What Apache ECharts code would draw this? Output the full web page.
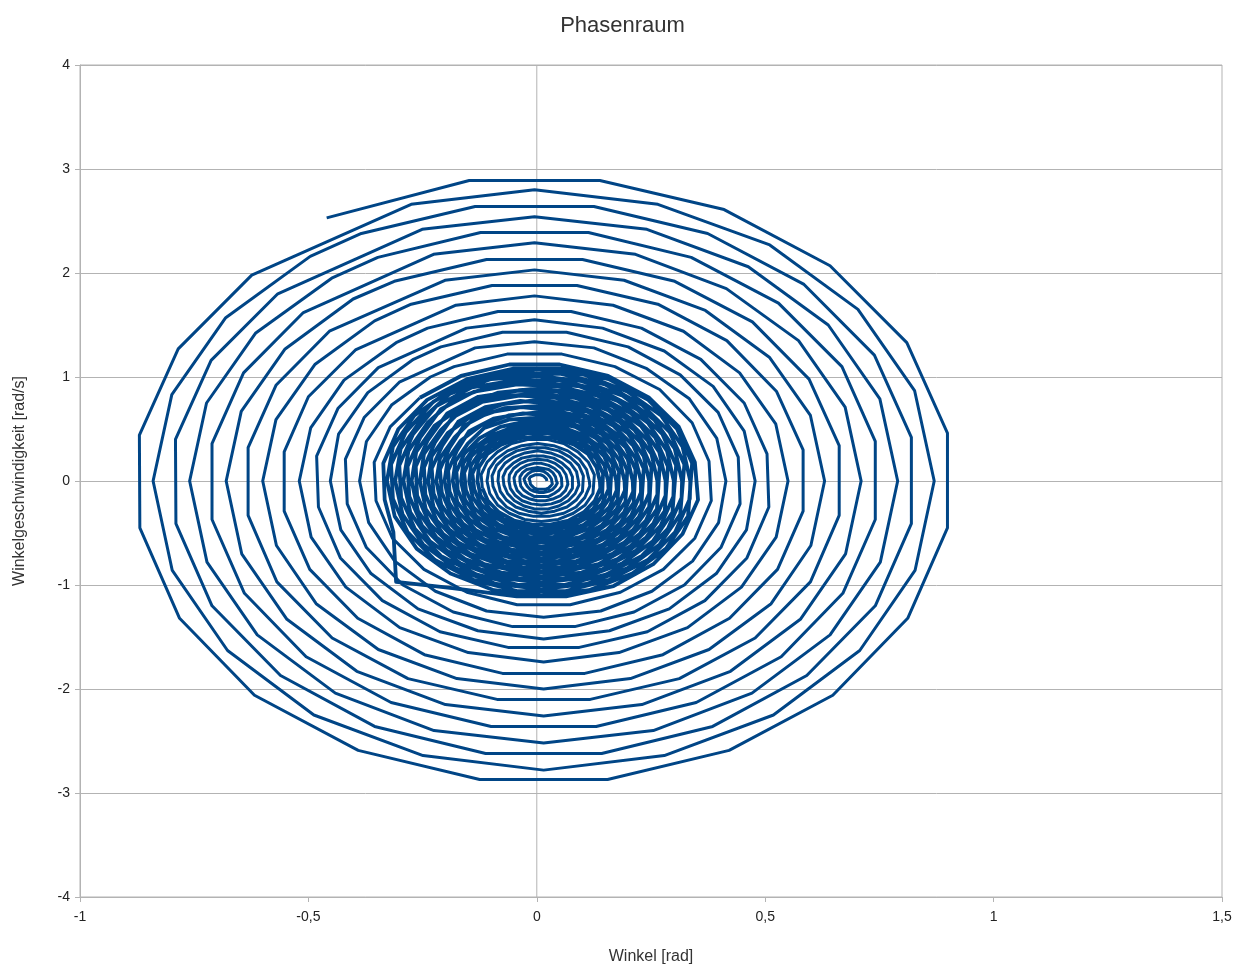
<!DOCTYPE html>
<html>
<head>
<meta charset="utf-8">
<title>Phasenraum</title>
<script src="https://cdn.jsdelivr.net/npm/echarts/dist/echarts.min.js"></script>
<style>
  html, body { margin: 0; padding: 0; background: #ffffff; }
  #chart { width: 1245px; height: 970px; }
</style>
</head>
<body>
<div id="chart"></div>
<script>
// Phasenraum eines gedämpften Pendels: [Winkel in rad, Winkelgeschwindigkeit in rad/s]

// äußere Umläufe (große Amplitude)
const bahnAussen = [
  [-0.46,2.53],[-0.148,2.89],[0.138,2.89],[0.410,2.61],[0.642,2.07],[0.810,1.33],[0.899,0.46],
  [0.899,-0.45],[0.812,-1.32],[0.648,-2.06],[0.421,-2.59],[0.155,-2.87],[-0.125,-2.87],[-0.391,-2.59],[-0.618,-2.06],[-0.782,-1.32],[-0.869,-0.45],
  [-0.870,0.44],[-0.785,1.27],[-0.624,1.98],
  [-0.275,2.66],[-0.005,2.80],[0.265,2.66],[0.510,2.27],[0.703,1.65],[0.827,0.87],[0.870,0],
  [0.828,-0.86],[0.707,-1.63],[0.518,-2.25],[0.279,-2.64],[0.015,-2.78],[-0.249,-2.64],[-0.488,-2.25],[-0.677,-1.63],[-0.798,-0.86],[-0.840,0],
  [-0.799,0.83],[-0.681,1.57],[-0.496,2.16],
  [-0.384,2.38],[-0.135,2.64],[0.125,2.64],[0.374,2.38],[0.585,1.89],[0.739,1.21],[0.820,0.42],
  [0.820,-0.41],[0.741,-1.20],[0.591,-1.87],[0.385,-2.36],[0.142,-2.62],[-0.112,-2.62],[-0.355,-2.36],[-0.561,-1.87],[-0.711,-1.20],[-0.790,-0.41],
  [-0.791,0.40],[-0.713,1.16],[-0.567,1.80],
  [-0.251,2.42],[-0.005,2.54],[0.241,2.42],[0.463,2.06],[0.638,1.50],[0.751,0.79],[0.790,0],
  [0.752,-0.78],[0.642,-1.48],[0.471,-2.04],[0.255,-2.40],[0.015,-2.52],[-0.225,-2.40],[-0.441,-2.04],[-0.612,-1.48],[-0.722,-0.78],[-0.760,0],
  [-0.723,0.75],[-0.616,1.42],[-0.449,1.95],
  [-0.348,2.15],[-0.123,2.39],[0.113,2.39],[0.338,2.15],[0.529,1.71],[0.668,1.10],[0.741,0.38],
  [0.741,-0.37],[0.670,-1.08],[0.535,-1.69],[0.349,-2.13],[0.130,-2.36],[-0.100,-2.36],[-0.319,-2.13],[-0.505,-1.69],[-0.640,-1.08],[-0.711,-0.37],
  [-0.711,0.36],[-0.642,1.04],[-0.511,1.62],
  [-0.226,2.18],[-0.005,2.29],[0.216,2.18],[0.415,1.85],[0.573,1.35],[0.675,0.71],[0.710,0],
  [0.676,-0.70],[0.577,-1.33],[0.424,-1.83],[0.230,-2.15],[0.015,-2.26],[-0.200,-2.15],[-0.394,-1.83],[-0.547,-1.33],[-0.646,-0.70],[-0.680,0],
  [-0.647,0.67],[-0.551,1.27],[-0.402,1.75],
  [-0.312,1.92],[-0.110,2.13],[0.100,2.13],[0.302,1.92],[0.472,1.53],[0.596,0.98],[0.662,0.34],
  [0.662,-0.33],[0.599,-0.97],[0.478,-1.51],[0.312,-1.90],[0.117,-2.10],[-0.087,-2.10],[-0.282,-1.90],[-0.448,-1.51],[-0.569,-0.97],[-0.632,-0.33],
  [-0.632,0.32],[-0.571,0.92],[-0.454,1.44],
  [-0.201,1.93],[-0.005,2.03],[0.191,1.93],[0.369,1.64],[0.509,1.19],[0.599,0.63],[0.630,0],
  [0.600,-0.62],[0.513,-1.18],[0.377,-1.62],[0.205,-1.90],[0.015,-2.00],[-0.175,-1.90],[-0.347,-1.62],[-0.483,-1.18],[-0.570,-0.62],[-0.600,0],
  [-0.571,0.59],[-0.486,1.12],[-0.355,1.54],
  [-0.275,1.70],[-0.098,1.88],[0.088,1.88],[0.265,1.70],[0.416,1.35],[0.525,0.86],[0.583,0.30],
  [0.583,-0.29],[0.527,-0.85],[0.422,-1.32],[0.276,-1.67],[0.105,-1.85],[-0.075,-1.85],[-0.246,-1.67],[-0.392,-1.32],[-0.497,-0.85],[-0.553,-0.29],
  [-0.553,0.28],[-0.500,0.81],[-0.397,1.26],
  [-0.177,1.69],[-0.005,1.78],[0.167,1.69],[0.321,1.44],[0.444,1.04],[0.523,0.55],[0.550,0],
  [0.524,-0.54],[0.448,-1.02],[0.330,-1.41],[0.180,-1.65],[0.015,-1.74],[-0.150,-1.65],[-0.300,-1.41],[-0.418,-1.02],[-0.494,-0.54],[-0.520,0],
  [-0.495,0.51],[-0.422,0.97],[-0.308,1.33],
  [-0.239,1.47],[-0.085,1.63],[0.075,1.63],[0.229,1.47],[0.359,1.17],[0.454,0.75],[0.504,0.26],
  [0.508,-0.25],[0.460,-0.74],[0.368,-1.15],[0.242,-1.45],[0.093,-1.60],[-0.063,-1.60],[-0.212,-1.45],[-0.338,-1.15],[-0.430,-0.74],[-0.478,-0.25],
  [-0.482,0.24],[-0.435,0.70],[-0.347,1.09],
  [-0.154,1.47],[-0.005,1.55],[0.144,1.47],[0.279,1.25],[0.386,0.91],[0.454,0.48],[0.478,0],
  [0.459,-0.47],[0.393,-0.89],[0.290,-1.23],[0.159,-1.44],[0.015,-1.52],[-0.129,-1.44],[-0.260,-1.23],[-0.363,-0.89],[-0.429,-0.47],[-0.452,0],
  [-0.434,0.45],[-0.370,0.85],[-0.270,1.17],
  [-0.210,1.29],[-0.075,1.43],[0.065,1.43],[0.200,1.29],[0.314,1.02],[0.397,0.66],[0.441,0.23],
  [0.445,-0.22],[0.403,-0.64],[0.323,-1.00],[0.213,-1.26],[0.083,-1.40],[-0.053,-1.40],[-0.183,-1.26],[-0.293,-1.00],[-0.373,-0.64],[-0.415,-0.22],
  [-0.419,0.21],[-0.378,0.61],[-0.301,0.95],
  [-0.135,1.28],[-0.005,1.34],[0.125,1.28],[0.241,1.08],[0.334,0.79],[0.394,0.41],[0.414,0],
  [0.398,-0.40],[0.341,-0.77],[0.252,-1.06],[0.140,-1.25],[0.015,-1.31],[-0.110,-1.25],[-0.222,-1.06],[-0.311,-0.77],[-0.368,-0.40],[-0.388,0],
  [-0.373,0.38],[-0.318,0.73],[-0.233,1.00],
  [-0.181,1.10],[-0.065,1.22],[0.055,1.22],[0.171,1.10],[0.269,0.88],[0.340,0.56],[0.377,0.19],
  [0.382,-0.19],[0.346,-0.55],[0.277,-0.85],[0.183,-1.07],[0.073,-1.19],[-0.043,-1.19],[-0.153,-1.07],[-0.247,-0.85],[-0.316,-0.55],[-0.352,-0.19],
  [-0.356,0.18],[-0.321,0.52],[-0.256,0.80]
];

// dichter Bereich (mittlere Amplitude, eng liegende Umläufe, unruhige Messwerte)
const bahnInnen = [
  [-0.166,1.01],[-0.060,1.12],[0.050,1.12],[0.156,1.01],[0.246,0.80],[0.311,0.52],[0.346,0.18],
  [0.353,-0.18],[0.319,-0.51],[0.255,-0.80],[0.168,-1.01],[0.064,-1.11],[-0.044,-1.11],[-0.185,-1.03],[-0.308,-0.97],[-0.314,-0.49],[-0.333,-0.18],
  [-0.336,0.17],[-0.303,0.50],[-0.240,0.78],[-0.153,0.98],[-0.051,1.08],[0.055,1.08],[0.157,0.98],[0.244,0.78],[0.307,0.50],[0.340,0.17],
  [0.331,-0.34],[0.283,-0.65],[0.209,-0.89],[0.114,-1.05],[0.010,-1.10],[-0.094,-1.05],[-0.189,-0.89],[-0.263,-0.65],[-0.311,-0.34],[-0.328,0],
  [-0.315,0.33],[-0.268,0.63],[-0.194,0.86],[-0.101,1.02],[0.002,1.07],[0.105,1.02],[0.198,0.86],[0.272,0.63],[0.319,0.33],[0.336,0],
  [0.335,-0.17],[0.303,-0.49],[0.243,-0.76],[0.159,-0.95],[0.061,-1.06],[-0.041,-1.06],[-0.139,-0.95],[-0.223,-0.76],[-0.283,-0.49],[-0.315,-0.17],
  [-0.319,0.16],[-0.287,0.47],[-0.227,0.76],[-0.150,0.95],[-0.049,1.03],[0.053,1.03],[0.149,0.93],[0.231,0.73],[0.291,0.47],[0.323,0.16],
  [0.314,-0.32],[0.269,-0.61],[0.198,-0.84],[0.109,-0.99],[0.010,-1.04],[-0.089,-0.99],[-0.178,-0.84],[-0.249,-0.61],[-0.294,-0.32],[-0.310,0],
  [-0.298,0.31],[-0.253,0.59],[-0.190,0.84],[-0.100,0.98],[0.002,1.01],[0.099,0.96],[0.188,0.82],[0.257,0.59],[0.302,0.31],[0.318,0],
  [0.317,-0.16],[0.287,-0.46],[0.230,-0.72],[0.151,-0.90],[0.059,-1.00],[-0.039,-1.00],[-0.131,-0.90],[-0.210,-0.72],[-0.267,-0.46],[-0.297,-0.16],
  [-0.301,0.15],[-0.271,0.45],[-0.220,0.72],[-0.142,0.90],[-0.046,0.97],[0.050,0.97],[0.141,0.87],[0.219,0.69],[0.275,0.45],[0.305,0.15],
  [0.297,-0.30],[0.254,-0.58],[0.188,-0.79],[0.103,-0.93],[0.010,-0.98],[-0.083,-0.93],[-0.168,-0.79],[-0.234,-0.58],[-0.277,-0.30],[-0.292,0],
  [-0.281,0.29],[-0.239,0.56],[-0.180,0.79],[-0.094,0.92],[0.002,0.95],[0.094,0.91],[0.177,0.77],[0.243,0.56],[0.285,0.29],[0.300,0],
  [0.299,-0.15],[0.271,-0.43],[0.217,-0.67],[0.143,-0.85],[0.056,-0.94],[-0.036,-0.94],[-0.123,-0.85],[-0.197,-0.67],[-0.251,-0.43],[-0.279,-0.15],
  [-0.283,0.14],[-0.255,0.42],[-0.210,0.69],[-0.137,0.86],[-0.043,0.93],[0.047,0.91],[0.133,0.82],[0.206,0.65],[0.259,0.42],[0.287,0.14],
  [0.280,-0.29],[0.240,-0.54],[0.177,-0.75],[0.098,-0.88],[0.010,-0.92],[-0.078,-0.88],[-0.157,-0.75],[-0.220,-0.54],[-0.260,-0.29],[-0.274,0],
  [-0.264,0.28],[-0.224,0.53],[-0.162,0.72],[-0.084,0.85],[0.002,0.89],[0.088,0.85],[0.166,0.72],[0.228,0.53],[0.268,0.28],[0.282,0],
  [0.282,-0.14],[0.255,-0.41],[0.204,-0.63],[0.135,-0.80],[0.053,-0.88],[-0.033,-0.88],[-0.115,-0.80],[-0.184,-0.63],[-0.235,-0.41],[-0.262,-0.14],
  [-0.265,0.14],[-0.239,0.39],[-0.196,0.65],[-0.128,0.81],[-0.040,0.87],[0.044,0.86],[0.125,0.77],[0.193,0.61],[0.243,0.39],[0.269,0.14],
  [0.263,-0.27],[0.225,-0.51],[0.166,-0.70],[0.092,-0.82],[0.010,-0.87],[-0.072,-0.82],[-0.146,-0.70],[-0.205,-0.51],[-0.243,-0.27],[-0.256,0],
  [-0.247,0.26],[-0.210,0.49],[-0.160,0.70],[-0.085,0.81],[0.002,0.84],[0.083,0.80],[0.156,0.68],[0.214,0.49],[0.251,0.26],[0.264,0],
  [0.264,-0.13],[0.239,-0.38],[0.192,-0.59],[0.127,-0.74],[0.050,-0.83],[-0.030,-0.83],[-0.107,-0.74],[-0.172,-0.59],[-0.219,-0.38],[-0.244,-0.13],
  [-0.247,0.13],[-0.223,0.37],[-0.185,0.61],[-0.120,0.76],[-0.038,0.82],[0.041,0.80],[0.117,0.72],[0.181,0.57],[0.227,0.37],[0.251,0.13],
  [0.246,-0.25],[0.211,-0.47],[0.156,-0.65],[0.087,-0.77],[0.010,-0.81],[-0.067,-0.77],[-0.136,-0.65],[-0.191,-0.47],[-0.226,-0.25],[-0.238,0],
  [-0.230,0.24],[-0.195,0.46],[-0.141,0.63],[-0.073,0.74],[0.002,0.78],[0.077,0.74],[0.145,0.63],[0.199,0.46],[0.234,0.24],[0.246,0],
  [0.246,-0.12],[0.223,-0.35],[0.179,-0.55],[0.119,-0.69],[0.047,-0.77],[-0.027,-0.77],[-0.099,-0.69],[-0.159,-0.55],[-0.203,-0.35],[-0.226,-0.12],
  [-0.230,0.12],[-0.207,0.34],[-0.172,0.57],[-0.113,0.71],[-0.036,0.77],[0.039,0.74],[0.109,0.67],[0.168,0.53],[0.211,0.34],[0.234,0.12],
  [0.229,-0.23],[0.196,-0.44],[0.145,-0.61],[0.081,-0.71],[0.010,-0.75],[-0.061,-0.71],[-0.125,-0.61],[-0.176,-0.44],[-0.209,-0.23],[-0.220,0],
  [-0.212,0.22],[-0.180,0.42],[-0.138,0.60],[-0.072,0.70],[0.002,0.72],[0.072,0.69],[0.135,0.58],[0.184,0.42],[0.216,0.22],[0.228,0],
  [0.228,-0.11],[0.207,-0.33],[0.166,-0.51],[0.110,-0.64],[0.044,-0.71],[-0.024,-0.71],[-0.090,-0.64],[-0.146,-0.51],[-0.187,-0.33],[-0.208,-0.11],
  [-0.212,0.11],[-0.191,0.32],[-0.160,0.53],[-0.104,0.66],[-0.034,0.71],[0.036,0.68],[0.100,0.62],[0.155,0.49],[0.195,0.32],[0.216,0.11],
  [0.212,-0.21],[0.182,-0.41],[0.135,-0.56],[0.076,-0.66],[0.010,-0.69],[-0.056,-0.66],[-0.115,-0.56],[-0.162,-0.41],[-0.192,-0.21],[-0.202,0],
  [-0.195,0.21],[-0.166,0.39],[-0.120,0.54],[-0.062,0.63],[0.002,0.66],[0.066,0.63],[0.124,0.54],[0.170,0.39],[0.199,0.21],[0.210,0],
  [0.211,-0.10],[0.191,-0.30],[0.154,-0.47],[0.102,-0.59],[0.042,-0.65],[-0.022,-0.65],[-0.082,-0.59],[-0.134,-0.47],[-0.171,-0.30],[-0.191,-0.10],
  [-0.194,0.10],[-0.175,0.29],[-0.148,0.48],[-0.095,0.60],[-0.030,0.65],[0.033,0.63],[0.092,0.57],[0.142,0.45],[0.179,0.29],[0.198,0.10],
  [0.194,-0.20],[0.167,-0.37],[0.124,-0.51],[0.070,-0.60],[0.010,-0.63],[-0.050,-0.60],[-0.104,-0.51],[-0.147,-0.37],[-0.174,-0.20],[-0.184,0],
  [-0.178,0.19],[-0.151,0.36],[-0.115,0.51],[-0.061,0.59],[0.002,0.61],[0.061,0.58],[0.113,0.49],[0.155,0.36],[0.182,0.19],[0.192,0],
  [0.193,-0.09],[0.175,-0.27],[0.141,-0.43],[0.094,-0.54],[0.039,-0.59],[-0.019,-0.59],[-0.074,-0.54],[-0.121,-0.43],[-0.155,-0.27],[-0.173,-0.09],
  [-0.176,0.09],[-0.159,0.26],[-0.126,0.41],[-0.080,0.52],[-0.026,0.57],[0.030,0.57],[0.084,0.52],[0.130,0.41],[0.163,0.26],[0.180,0.09],
  [0.177,-0.18],[0.152,-0.34],[0.113,-0.46],[0.064,-0.54],[0.010,-0.57],[-0.044,-0.54],[-0.093,-0.46],[-0.132,-0.34],[-0.157,-0.18],[-0.166,0],
  [-0.161,0.17],[-0.137,0.32],[-0.099,0.44],[-0.051,0.52],[0.002,0.55],[0.055,0.52],[0.103,0.44],[0.141,0.32],[0.165,0.17],[0.174,0],
  [0.175,-0.09],[0.159,-0.25],[0.128,-0.38],[0.086,-0.48],[0.036,-0.54],[-0.016,-0.54],[-0.066,-0.48],[-0.108,-0.38],[-0.139,-0.25],[-0.155,-0.09],
  [-0.159,0.08],[-0.143,0.24],[-0.113,0.37],[-0.072,0.46],[-0.023,0.51],[0.027,0.51],[0.076,0.46],[0.117,0.37],[0.147,0.24],[0.163,0.08],
  [0.160,-0.16],[0.138,-0.30],[0.103,-0.42],[0.059,-0.49],[0.010,-0.51],[-0.039,-0.49],[-0.083,-0.42],[-0.118,-0.30],[-0.140,-0.16],[-0.148,0],
  [-0.144,0.15],[-0.122,0.29],[-0.088,0.40],[-0.045,0.47],[0.002,0.49],[0.049,0.47],[0.092,0.40],[0.126,0.29],[0.148,0.15],[0.156,0],
  [0.157,-0.08],[0.143,-0.22],[0.115,-0.34],[0.078,-0.43],[0.033,-0.48],[-0.013,-0.48],[-0.058,-0.43],[-0.095,-0.34],[-0.123,-0.22],[-0.137,-0.08],
  [-0.141,0.07],[-0.127,0.21],[-0.100,0.33],[-0.064,0.41],[-0.021,0.46],[0.025,0.46],[0.068,0.41],[0.104,0.33],[0.131,0.21],[0.145,0.07],
  [0.143,-0.14],[0.123,-0.27],[0.092,-0.37],[0.053,-0.43],[0.010,-0.46],[-0.033,-0.43],[-0.072,-0.37],[-0.103,-0.27],[-0.123,-0.14],[-0.130,0],
  [-0.127,0.13],[-0.108,0.26],[-0.078,0.35],[-0.040,0.41],[0.002,0.43],[0.044,0.41],[0.082,0.35],[0.112,0.26],[0.131,0.13],[0.138,0],
  [0.139,-0.07],[0.127,-0.19],[0.103,-0.30],[0.070,-0.38],[0.030,-0.42],[-0.010,-0.42],[-0.050,-0.38],[-0.083,-0.30],[-0.107,-0.19],[-0.119,-0.07]
];

// letzte Umläufe bis zum Stillstand
const bahnKern = [
  [-0.122,0.06],[-0.109,0.18],[-0.086,0.28],[-0.055,0.36],[-0.018,0.40],[0.022,0.40],[0.059,0.36],[0.090,0.28],[0.113,0.18],[0.126,0.06],
  [0.123,-0.12],[0.106,-0.23],[0.080,-0.31],[0.047,-0.37],[0.010,-0.39],[-0.027,-0.37],[-0.060,-0.31],[-0.086,-0.23],[-0.103,-0.12],[-0.109,0],
  [-0.105,0.11],[-0.089,0.21],[-0.064,0.29],[-0.033,0.34],[0.002,0.36],[0.037,0.34],[0.068,0.29],[0.093,0.21],[0.109,0.11],[0.115,0],
  [0.116,-0.05],[0.105,-0.16],[0.086,-0.25],[0.059,-0.31],[0.027,-0.34],[-0.007,-0.34],[-0.039,-0.31],[-0.066,-0.25],[-0.085,-0.16],[-0.096,-0.05],
  [-0.098,0.05],[-0.088,0.15],[-0.069,0.23],[-0.044,0.29],[-0.014,0.32],[0.018,0.32],[0.048,0.29],[0.073,0.23],[0.092,0.15],[0.102,0.05],
  [0.100,-0.10],[0.087,-0.18],[0.066,-0.25],[0.039,-0.29],[0.010,-0.31],[-0.019,-0.29],[-0.046,-0.25],[-0.067,-0.18],[-0.080,-0.10],[-0.085,0],
  [-0.083,0.09],[-0.070,0.17],[-0.050,0.23],[-0.026,0.27],[0.002,0.29],[0.030,0.27],[0.054,0.23],[0.074,0.17],[0.087,0.09],[0.091,0],
  [0.092,-0.04],[0.084,-0.12],[0.069,-0.19],[0.048,-0.24],[0.023,-0.27],[-0.003,-0.27],[-0.028,-0.24],[-0.049,-0.19],[-0.064,-0.12],[-0.072,-0.04],
  [-0.074,0.04],[-0.067,0.11],[-0.052,0.17],[-0.033,0.22],[-0.010,0.24],[0.014,0.24],[0.037,0.22],[0.056,0.17],[0.071,0.11],[0.078,0.04],
  [0.078,-0.07],[0.067,-0.14],[0.052,-0.19],[0.032,-0.22],[0.010,-0.23],[-0.012,-0.22],[-0.032,-0.19],[-0.047,-0.14],[-0.058,-0.07],[-0.061,0],
  [-0.060,0.06],[-0.051,0.12],[-0.036,0.17],[-0.018,0.20],[0.002,0.21],[0.022,0.20],[0.040,0.17],[0.055,0.12],[0.064,0.06],[0.067,0],
  [0.068,-0.03],[0.063,-0.09],[0.052,-0.14],[0.037,-0.17],[0.019,-0.19],[0.001,-0.19],[-0.017,-0.17],[-0.032,-0.14],[-0.043,-0.09],[-0.048,-0.03],
  [-0.050,0.03],[-0.045,0.08],[-0.035,0.12],[-0.022,0.15],[-0.006,0.17],[0.010,0.17],[0.026,0.15],[0.039,0.12],[0.049,0.08],[0.054,0.03],
  [0.055,-0.05],[0.048,-0.09],[0.038,-0.12],[0.025,-0.15],[0.010,-0.15],[-0.005,-0.15],[-0.018,-0.12],[-0.028,-0.09],[-0.035,-0.05],[-0.037,0],
  [-0.037,0.04],[-0.031,0.08],[-0.022,0.11],[-0.011,0.12],[0.002,0.13],[0.015,0.12],[0.026,0.11],[0.035,0.08],[0.041,0.04],[0.043,0],
  [0.045,-0.02],[0.041,-0.05],[0.035,-0.08],[0.026,-0.10],[0.015,-0.11],[0.005,-0.11],[-0.006,-0.10],[-0.015,-0.08],[-0.021,-0.05],[-0.025,-0.02],
  [-0.028,0.02],[-0.025,0.04],[-0.019,0.07],[-0.012,0.09],[-0.003,0.10],[0.007,0.10],[0.016,0.09],[0.023,0.07],[0.029,0.04],[0.032,0.02],
  [0.034,-0.03],[0.030,-0.05],[0.025,-0.07],[0.018,-0.08],[0.010,-0.08],[0.002,-0.08],[-0.005,-0.07],[-0.010,-0.05],[-0.014,-0.03],[-0.015,0],
  [-0.017,0.02],[-0.014,0.04],[-0.010,0.05],[-0.004,0.06],[0.002,0.06],[0.008,0.06],[0.014,0.05],[0.018,0.04],[0.021,0.02],[0.022,0]
];

// Achsenbereiche und Beschriftung
const winkelBereich = [-1, 1.5];
const geschwBereich = [-4, 4];
const nullLinie = [[0, geschwBereich[0]], [0, geschwBereich[1]]];

// die drei Abschnitte lückenlos aneinanderhängen
const abschnittAussen = bahnAussen;
const abschnittInnen = [bahnAussen[bahnAussen.length - 1]].concat(bahnInnen);
const abschnittKern = [bahnInnen[bahnInnen.length - 1]].concat(bahnKern);

const schrift = 'Liberation Sans, Arial, sans-serif';
const grau = '#b3b3b3';
const blau = '#004586';
const komma = v => String(v).replace('.', ',');

function bahnSerie(daten, breite) {
  return {
    name: 'Phasenraum',
    type: 'line',
    data: daten,
    symbol: 'none',
    showSymbol: false,
    smooth: false,
    sampling: null,
    z: 2,
    lineStyle: { color: blau, width: breite, join: 'round' }
  };
}

const chart = echarts.init(document.getElementById('chart'));
chart.setOption({
  animation: false,
  backgroundColor: '#ffffff',
  title: {
    text: 'Phasenraum',
    left: 'center',
    top: 10,
    textStyle: { fontFamily: schrift, fontSize: 22, fontWeight: 'normal', color: '#333333' }
  },
  grid: {
    left: 80, right: 23, top: 65, bottom: 73,
    show: true, borderColor: grau, borderWidth: 1, backgroundColor: '#ffffff'
  },
  xAxis: {
    type: 'value',
    min: winkelBereich[0], max: winkelBereich[1], interval: 0.5,
    name: 'Winkel [rad]',
    nameLocation: 'middle',
    nameGap: 52,
    nameTextStyle: { fontFamily: schrift, fontSize: 16, color: '#333333' },
    axisLine: { show: true, onZero: false, lineStyle: { color: grau, width: 1 } },
    axisTick: { show: true, length: 5, lineStyle: { color: grau } },
    axisLabel: { margin: 13, fontFamily: schrift, fontSize: 14, color: '#222222', formatter: komma },
    splitLine: { show: false }
  },
  yAxis: {
    type: 'value',
    min: geschwBereich[0], max: geschwBereich[1], interval: 1,
    name: 'Winkelgeschwindigkeit [rad/s]',
    nameLocation: 'middle',
    nameGap: 52,
    nameTextStyle: { fontFamily: schrift, fontSize: 16, color: '#333333' },
    axisLine: { show: true, onZero: false, lineStyle: { color: grau, width: 1 } },
    axisTick: { show: true, length: 5, lineStyle: { color: grau } },
    axisLabel: { margin: 10, fontFamily: schrift, fontSize: 14, color: '#222222', formatter: komma },
    splitLine: { show: true, lineStyle: { color: grau, width: 1 } }
  },
  series: [
    {
      name: 'Nulllinie',
      type: 'line',
      data: nullLinie,
      symbol: 'none',
      silent: true,
      z: 1,
      lineStyle: { color: grau, width: 1 }
    },
    bahnSerie(abschnittAussen, 3),
    bahnSerie(abschnittInnen, 3.8),
    bahnSerie(abschnittKern, 3)
  ]
});
</script>
</body>
</html>
